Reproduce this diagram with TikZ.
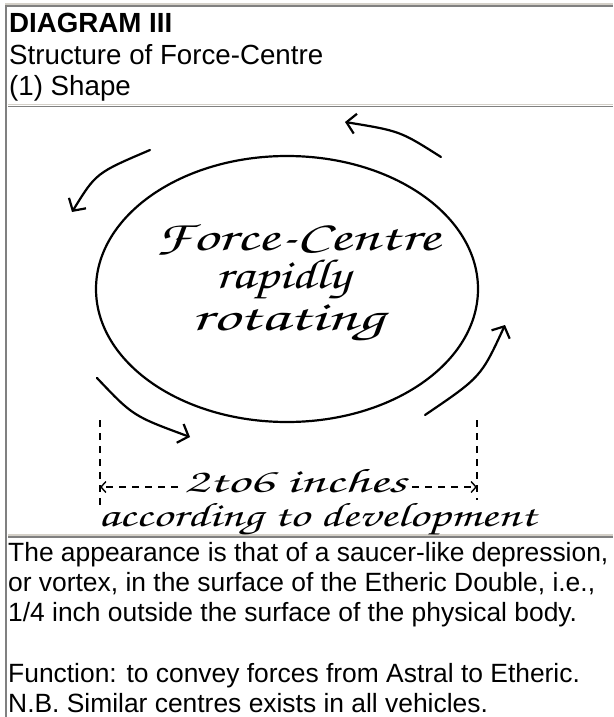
\documentclass[tikz,border=0pt]{standalone}
\usepackage{fontspec}
\setmainfont{Liberation Sans}
\usepackage{tikz}
\usetikzlibrary{arrows.meta}

\definecolor{rulelight}{HTML}{D4D0C8}
\definecolor{ruledark}{HTML}{808080}
\newcommand{\wide}[2]{\scalebox{#1}[1]{#2}}
\newcommand{\handfont}[1]{\fontencoding{T1}\fontfamily{pzc}\fontseries{mb}\fontshape{it}\fontsize{#1}{#1}\selectfont}

\tikzset{
  headtext/.style={anchor=base west, inner sep=0pt, font=\fontsize{27.7}{31}\selectfont\bfseries},
  captext/.style={anchor=base west, inner sep=0pt, font=\fontsize{27.7}{31}\selectfont},
  bodytext/.style={anchor=base west, inner sep=0pt, font=\fontsize{26.4}{30}\selectfont},
  hand/.style={anchor=base, inner sep=0pt, font=\handfont{42}},
  smallhand/.style={anchor=base, inner sep=0pt, font=\handfont{34}},
  swirl/.style={line width=2.2pt, line cap=round, -{Straight Barb[length=9pt,width=20pt,line width=2.2pt]}},
  dimline/.style={line width=1.6pt, dash pattern=on 7pt off 6pt},
  dimarrow/.style={dimline, -{Straight Barb[length=5pt,width=11pt,line width=1.4pt]}},
}

\begin{document}
\begin{tikzpicture}[x=1pt,y=-1pt]
\useasboundingbox (0,0) rectangle (613,717);
\fill[white] (0,0) rectangle (613,717);

% table rules
\draw[rulelight, line width=1.5pt] (5,4) -- (613,4);
\draw[ruledark, line width=1.5pt] (6,6.2) -- (613,6.2);
\draw[ruledark, line width=1.5pt] (6.2,5) -- (6.2,717);
\draw[rulelight, line width=1.5pt] (8,104.5) -- (613,104.5);
\draw[ruledark, line width=1.5pt] (8,106.5) -- (613,106.5);
\draw[rulelight, line width=1.5pt] (8,535) -- (613,535);
\draw[ruledark, line width=1.5pt] (8,537) -- (613,537);

% header
\node[headtext] (title) at (9,33) {DIAGRAM III};
\node[captext] (subtitle) at (9,64) {Structure of Force-Centre};
\node[captext] (part) at (9,95) {(1) Shape};

% the centre
\coordinate (c) at (287,289);
\draw[line width=2.2pt] (c) ellipse [x radius=191, y radius=133];
\node[hand] (fc) at (298,250) {\wide{1.5}{Force-Centre}};
\node[hand] (rap) at (283,288) {\wide{1.3}{rapidly}};
\node[hand] (rot) at (288,330) {\wide{1.6}{rotating}};

% rotation arrows
\coordinate (t1) at (441,157);
\coordinate (t2) at (345,122);
\coordinate (l1) at (150,150);
\coordinate (l2) at (72,212);
\coordinate (b1) at (97,378);
\coordinate (b2) at (190,437);
\coordinate (r1) at (425,415);
\coordinate (r2) at (505,325);
\draw[swirl] (t1) .. controls (400,131) .. (t2);
\draw[swirl] (l1) .. controls (96,173) .. (l2);
\draw[swirl] (b1) .. controls (133,416) .. (b2);
\draw[swirl] (r1) .. controls (481,377) .. (r2);

% size
\coordinate (dl1) at (100,420);
\coordinate (dl2) at (100,505);
\coordinate (dr1) at (477,420);
\coordinate (dr2) at (477,500);
\draw[dimline] (dl1) -- (dl2);
\draw[dimline] (dr1) -- (dr2);
\node[smallhand] (size) at (295,492) {\wide{1.65}{2to6 inches}};
\node[smallhand] (dev) at (317,526) {\wide{1.45}{according to development}};
\coordinate (al) at (100,487);
\coordinate (ar) at (477,487);
\draw[dimarrow] (size.west |- al) ++(-6,0) -- (al);
\draw[dimarrow] (size.east |- ar) ++(6,0) -- (ar);

% description
\node[bodytext] (d1) at (8,561) {The appearance is that of a saucer-like depression,};
\node[bodytext] (d2) at (8,591) {or vortex, in the surface of the Etheric Double, i.e.,};
\node[bodytext] (d3) at (8,621) {1/4 inch outside the surface of the physical body.};
\node[bodytext] (d4) at (8,682) {Function: to convey forces from Astral to Etheric.};
\node[bodytext] (d5) at (8,712) {N.B. Similar centres exists in all vehicles.};
\end{tikzpicture}
\end{document}
